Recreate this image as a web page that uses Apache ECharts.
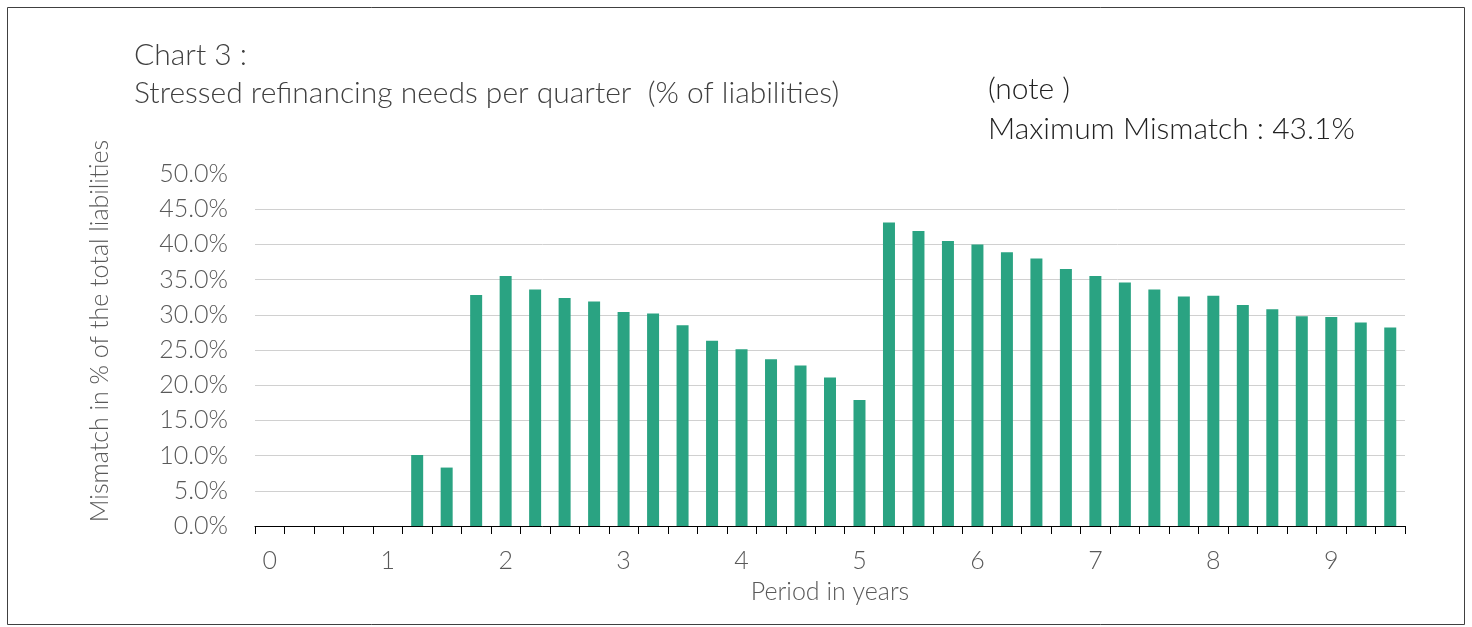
<!DOCTYPE html>
<html>
<head>
<meta charset="utf-8">
<script src="https://cdn.jsdelivr.net/npm/echarts@6/dist/echarts.min.js"></script>
<style>
  html, body { margin: 0; padding: 0; background: #fff; }
  #main { width: 1472px; height: 627px; }
</style>
</head>
<body>
<div id="main"></div>
<script>
// quarters, year label on every 4th
var categories = ['0','','','','1','','','','2','','','','3','','','','4','','','','5','','','','6','','','','7','','','','8','','','','9','',''];
var mismatch = [0, 0, 0, 0, 0, 10.1, 8.3, 32.8, 35.5, 33.6, 32.4, 31.9, 30.4, 30.2, 28.5, 26.3, 25.1, 23.7, 22.8, 21.1, 17.9,
  43.1, 41.9, 40.5, 40.0, 38.9, 38.0, 36.5, 35.5, 34.6, 33.6, 32.6, 32.7, 31.4, 30.8, 29.8, 29.7, 28.9, 28.2];
var yTicks = [0, 5, 10, 15, 20, 25, 30, 35, 40, 45, 50];

var font = 'Lato, "Open Sans", sans-serif';
var chart = echarts.init(document.getElementById('main'));

var option = {
  backgroundColor: '#fff',
  animation: false,
  grid: { left: 255, right: 67, top: 174, bottom: 101 },
  graphic: [
    { type: 'rect', shape: { x: 7.5, y: 7.5, width: 1457, height: 617 },
      style: { fill: 'none', stroke: '#404040', lineWidth: 1 } },
    { type: 'text', left: 134, top: 40,
      style: { text: 'Chart 3 :', font: '300 30px ' + font, fill: '#404040' } },
    { type: 'text', left: 134, top: 78,
      style: { text: 'Stressed refinancing needs per quarter  (% of liabilities)', font: '300 30px ' + font, fill: '#404040' } },
    { type: 'text', left: 988, top: 74,
      style: { text: '(note )', font: '300 30px ' + font, fill: '#222' } },
    { type: 'text', left: 988, top: 114,
      style: { text: 'Maximum Mismatch : 43.1%', font: '300 30px ' + font, fill: '#222' } },
    { type: 'text', x: 100, y: 331, rotation: Math.PI / 2,
      style: { text: 'Mismatch in % of the total liabilities', font: '300 25px ' + font, fill: '#595959',
        align: 'center', verticalAlign: 'middle' } }
  ],
  xAxis: {
    type: 'category',
    data: categories,
    name: 'Period in years',
    nameLocation: 'middle',
    nameGap: 53,
    nameTextStyle: { fontFamily: font, fontWeight: 300, fontSize: 25, color: '#595959' },
    axisLine: { lineStyle: { color: '#000', width: 1 } },
    axisTick: { show: true, interval: 0, length: 8, lineStyle: { color: '#000' } },
    axisLabel: { interval: 0, margin: 22, fontFamily: font, fontWeight: 300, fontSize: 25, color: '#595959' }
  },
  yAxis: {
    type: 'value',
    min: 0, max: 50, interval: 5,
    axisLine: { show: false },
    axisTick: { show: false },
    splitLine: { show: true, showMaxLine: false, lineStyle: { color: '#d0d0d0', width: 1 } },
    axisLabel: {
      margin: 27, fontFamily: font, fontWeight: 300, fontSize: 25, color: '#595959',
      formatter: function (v) { return yTicks.indexOf(v) >= 0 ? v.toFixed(1) + '%' : ''; }
    }
  },
  series: [{
    type: 'bar',
    data: mismatch,
    barWidth: 12,
    itemStyle: { color: '#2aa382' }
  }]
};
chart.setOption(option);
</script>
</body>
</html>
